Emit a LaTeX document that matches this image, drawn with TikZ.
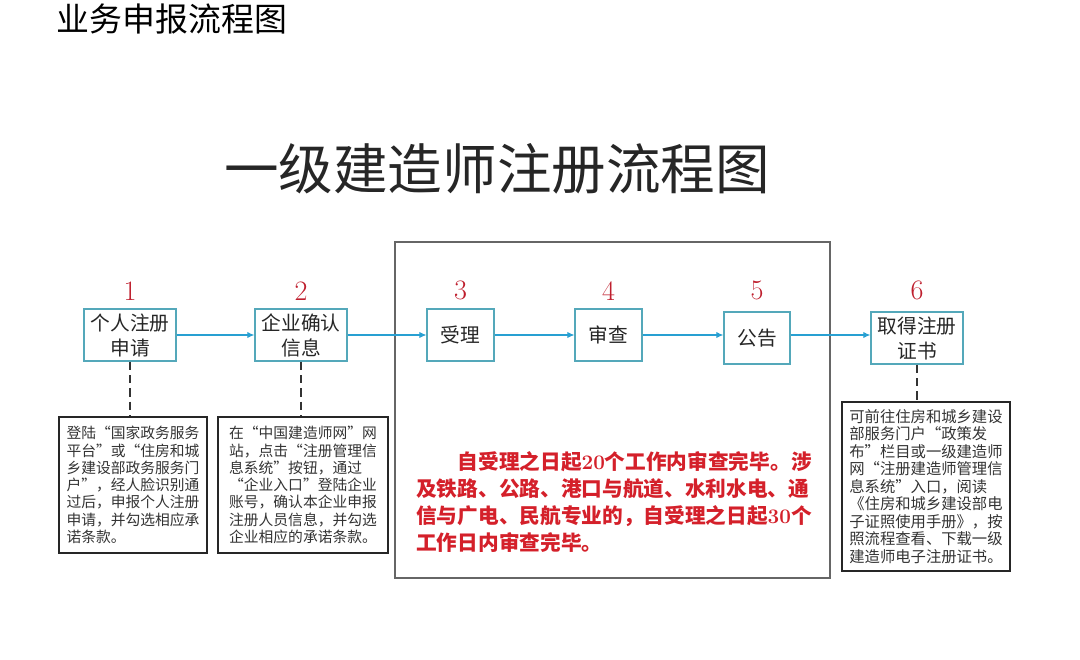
\documentclass[tikz,border=0pt]{standalone}
\usepackage{fontspec}
\newfontfamily\cjk{Noto Sans CJK SC}
\usepackage{xcolor}
\usetikzlibrary{positioning, arrows.meta}
\definecolor{stepline}{RGB}{84,168,186}
\definecolor{flowline}{RGB}{40,160,210}
\definecolor{numred}{RGB}{190,30,45}
\definecolor{notered}{RGB}{212,32,42}

\begin{document}
\begin{tikzpicture}[x=0.025cm, y=-0.025cm,
		stepbox/.style={draw=stepline, line width=0.9pt, fill=white, minimum height=1.3cm, inner sep=1pt, align=center, text=black!85, font=\cjk\fontsize{14}{17.8}\selectfont},
		widebox/.style={stepbox, minimum width=2.3cm},
		shortbox/.style={stepbox, minimum width=1.67cm},
		num/.style={text=numred, inner sep=1pt, font=\fontsize{20}{20}\selectfont},
		note/.style={draw=black!85, line width=0.8pt, align=left, inner sep=2pt, text=black!80, font=\cjk\fontsize{10.5}{12.3}\selectfont},
		flow/.style={draw=flowline, line width=0.8pt, -{Latex[length=5pt,width=4.5pt]}},
		guide/.style={draw=black!80, line width=1.1pt, dash pattern=on 6pt off 3.5pt}
		]
		\useasboundingbox (0,0) rectangle (1080,659);
		
		\node [text=black, anchor=center, font=\cjk\fontsize{23.4}{24}\selectfont](header) at (172,19) {业务申报流程图};
		\node [text=black!85, font=\cjk\fontsize{38.8}{40}\selectfont](title) at (497,169) {一级建造师注册流程图};
		
		\node [draw=black!60, line width=1.1pt, minimum width=10.875cm, minimum height=8.4cm](panel) at (612.5,410) {};
		
		\node [widebox](b1) at (130,335) {个人注册\\申请};
		\node [widebox](b2) at (301,335) {企业确认\\信息};
		\node [shortbox](b3) at (460.5,335) {受理};
		\node [shortbox](b4) at (608.5,335) {审查};
		\node [shortbox, minimum width=1.65cm](b5) at (757,338) {公告};
		\node [widebox](b6) at (917,338) {取得注册\\证书};
		
		\node [num](n1) [above=4.6pt of b1] {1};
		\node [num](n2) [above=4.6pt of b2] {2};
		\node [num](n3) [above=4.6pt of b3] {3};
		\node [num](n4) [above=4.6pt of b4] {4};
		\node [num](n5) [above=7pt of b5] {5};
		\node [num](n6) [above=7pt of b6] {6};
		
		\node [note, minimum width=3.7cm, minimum height=3.4cm](d1) at (133,485) {登陆“国家政务服务\\平台”或“住房和城\\乡建设部政务服务门\\户”，经人脸识别通\\过后，申报个人注册\\申请，并勾选相应承\\诺条款。};
		\node [note, minimum width=4.25cm, minimum height=3.4cm](d2) at (303,485) {在“中国建造师网”网\\站，点击“注册管理信\\息系统”按钮，通过\\“企业入口”登陆企业\\账号，确认本企业申报\\注册人员信息，并勾选\\企业相应的承诺条款。};
		\node [note, minimum width=4.2cm, minimum height=4.225cm, font=\cjk\fontsize{10.9}{12.45}\selectfont](d3) at (926,486.5) {可前往住房和城乡建设\\部服务门户“政策发\\布”栏目或一级建造师\\网“注册建造师管理信\\息系统”入口，阅读\\《住房和城乡建设部电\\子证照使用手册》，按\\照流程查看、下载一级\\建造师电子注册证书。};
		
		\node [text=notered, align=left, inner sep=0pt, font=\cjk\bfseries\fontsize{14.7}{19.4}\selectfont](rule) at (614,502) {\hspace*{2em}自受理之日起{\rmfamily\bfseries 20}个工作内审查完毕。涉\\及铁路、公路、港口与航道、水利水电、通\\信与广电、民航专业的，自受理之日起{\rmfamily\bfseries 30}个\\工作日内审查完毕。};
		
		\draw[flow] (b1) -- (b2);
		\draw[flow] (b2) -- (b3);
		\draw[flow] (b3) -- (b4);
		\draw[flow] (b4.east) -- (b4.east -| b5.west);
		\draw[flow] (b5.east |- b4.east) -- (b6.west |- b4.east);
		
		\draw[guide] (b1.south) -- (b1.south |- d1.north);
		\draw[guide] (b2.south) -- (b2.south |- d2.north);
		\draw[guide] (b6.south) -- (b6.south |- d3.north);
		
	\end{tikzpicture}
\end{document}
